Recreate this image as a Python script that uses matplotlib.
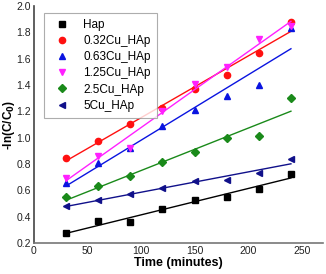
import numpy as np
import matplotlib
matplotlib.use('Agg')
import matplotlib.pyplot as plt

plt.rcParams['font.family'] = ['Liberation Sans', 'DejaVu Sans']

time = [30, 60, 90, 120, 150, 180, 210, 240]

labels = ['Hap', '0.32Cu_HAp', '0.63Cu_HAp', '1.25Cu_HAp', '2.5Cu_HAp', '5Cu_HAp']
hap = [0.276, 0.365, 0.357, 0.456, 0.527, 0.550, 0.613, 0.727]
cu032 = [0.846, 0.978, 1.105, 1.229, 1.369, 1.478, 1.643, 1.878]
cu063 = [0.654, 0.808, 0.920, 1.092, 1.214, 1.315, 1.402, 1.830]
cu125 = [0.697, 0.864, 0.920, 1.206, 1.407, 1.539, 1.746, 1.848]
cu25 = [0.547, 0.631, 0.709, 0.813, 0.895, 1.001, 1.011, 1.298]
cu5 = [0.484, 0.527, 0.570, 0.616, 0.674, 0.676, 0.732, 0.839]

series = [hap, cu032, cu063, cu125, cu25, cu5]
colors = ['black', '#ff1010', '#0a14e0', '#ff20ff', '#1a8a1a', '#10108a']
markers = ['s', 'o', '^', 'v', 'D', '<']
sizes = [4, 4.5, 4.5, 4.5, 4, 4.5]

fig = plt.figure(figsize=(3.26, 2.74), dpi=100)
ax = fig.add_axes([0.104, 0.113, 0.887, 0.865])

t = np.array(time)
for y, c, m, s, lab in zip(series, colors, markers, sizes, labels):
    ax.plot(time, y, linestyle='none', marker=m, color=c, markersize=s, label=lab)
    k, b = np.polyfit(t, y, 1)
    ax.plot(t, k * t + b, color=c, linewidth=1)

ax.set_xlim(0, 270)
ax.set_ylim(0.2, 2.0)
ax.set_xticks([0, 50, 100, 150, 200, 250])
ax.set_yticks([0.2, 0.4, 0.6, 0.8, 1.0, 1.2, 1.4, 1.6, 1.8, 2.0])
ax.set_yticklabels(['0.2', '0.4', '0.6', '0.8', '1.0', '1.2', '1.4', '1.6', '1.8', '2.0'])
ax.tick_params(length=0, labelsize=7.5, pad=2, colors='#222222')
ax.spines['top'].set_visible(False)
ax.spines['right'].set_visible(False)
ax.spines['left'].set_color('#444444')
ax.spines['bottom'].set_color('#777777')
ax.spines['left'].set_linewidth(1.2)
ax.spines['bottom'].set_linewidth(1.2)

ax.set_xlabel('Time (minutes)', fontsize=9, fontweight='bold', labelpad=1)
ax.set_ylabel(r'-ln(C/C$_\mathbf{0}$)', fontsize=8.5, fontweight='bold', labelpad=0)

leg = ax.legend(loc='upper left', bbox_to_anchor=(0.015, 0.995), fontsize=8.5,
                frameon=True, fancybox=False, edgecolor='#999999',
                handletextpad=0.8, labelspacing=0.35, borderpad=0.5,
                handlelength=2.0)
leg.get_frame().set_linewidth(0.8)

fig.savefig('out.png', dpi=100)
